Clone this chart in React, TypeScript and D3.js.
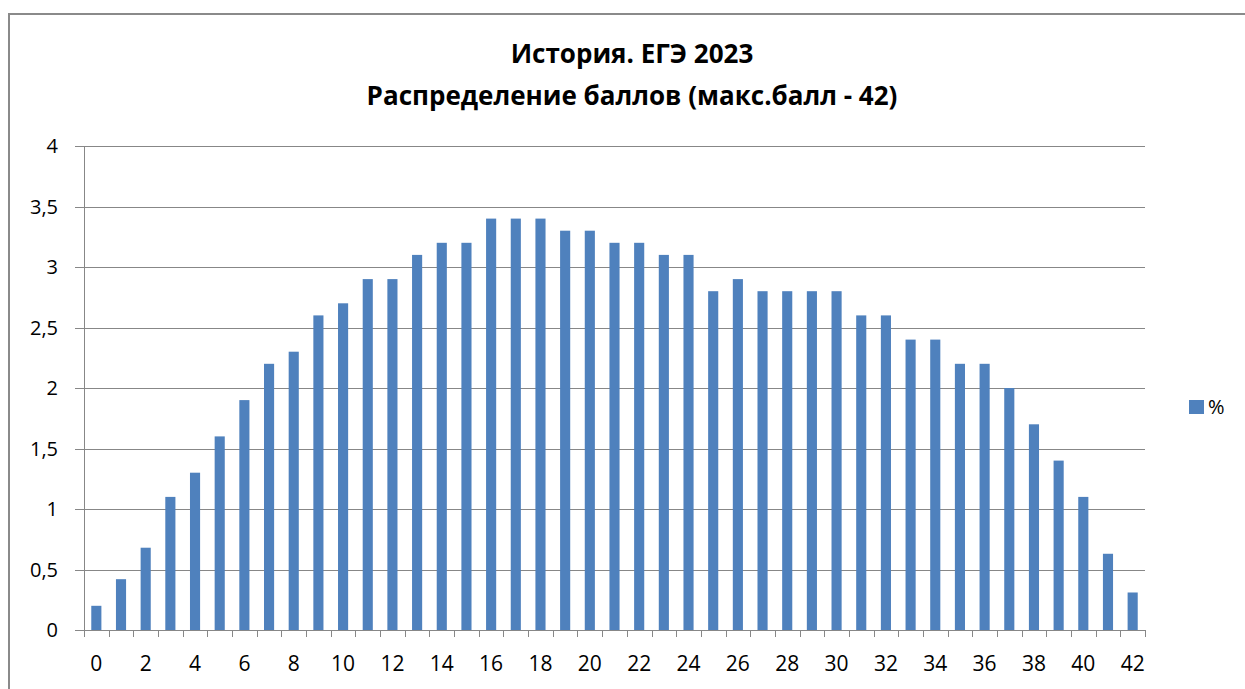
import * as d3 from "d3";
import { useEffect, useRef } from "react";

const scores = d3.range(0, 43).map(String);
const percents = [
  0.2, 0.42, 0.68, 1.1, 1.3, 1.6, 1.9, 2.2, 2.3, 2.6, 2.7, 2.9, 2.9, 3.1, 3.2,
  3.2, 3.4, 3.4, 3.4, 3.3, 3.3, 3.2, 3.2, 3.1, 3.1, 2.8, 2.9, 2.8, 2.8, 2.8,
  2.8, 2.6, 2.6, 2.4, 2.4, 2.2, 2.2, 2.0, 1.7, 1.4, 1.1, 0.63, 0.31,
];
const yTicks = [0, 0.5, 1, 1.5, 2, 2.5, 3, 3.5, 4];
const titleLines = ["История. ЕГЭ 2023", "Распределение баллов (макс.балл - 42)"];
const seriesName = "%";

export default function App() {
  const svgRef = useRef<SVGSVGElement | null>(null);

  useEffect(() => {
    if (!svgRef.current) return;
    const svg = d3.select(svgRef.current);
    svg.selectAll("*").remove();

    const width = 1245;
    const height = 689;
    const margin = { top: 146, right: 100, bottom: 59, left: 84 };
    const font = "'Open Sans', 'Noto Sans', sans-serif";
    const barColor = "#4f81bd";
    const lineColor = "#878787";

    // outer frame (runs past the window on the right and bottom)
    svg
      .append("rect")
      .attr("x", 9)
      .attr("y", 14)
      .attr("width", width + 20)
      .attr("height", height + 20)
      .attr("fill", "#fff")
      .attr("stroke", "#8a8a8a")
      .attr("stroke-width", 2);

    const x = d3
      .scaleBand()
      .domain(scores)
      .range([margin.left, width - margin.right])
      .paddingInner(0.59)
      .paddingOuter(0.295);

    const y = d3
      .scaleLinear()
      .domain([0, 4])
      .range([height - margin.bottom, margin.top]);

    // grid
    svg
      .append("g")
      .selectAll("line")
      .data(yTicks)
      .join("line")
      .attr("x1", margin.left - 9)
      .attr("x2", width - margin.right)
      .attr("y1", (d) => Math.round(y(d)) + 0.5)
      .attr("y2", (d) => Math.round(y(d)) + 0.5)
      .attr("stroke", lineColor)
      .attr("stroke-width", 1);

    // y axis line
    svg
      .append("line")
      .attr("x1", margin.left + 0.5)
      .attr("x2", margin.left + 0.5)
      .attr("y1", y(4))
      .attr("y2", y(0))
      .attr("stroke", lineColor);

    // y labels
    svg
      .append("g")
      .selectAll("text")
      .data(yTicks)
      .join("text")
      .attr("x", 58)
      .attr("y", (d) => y(d))
      .attr("dy", "0.35em")
      .attr("text-anchor", "end")
      .attr("font-family", font)
      .attr("font-size", 20)
      .attr("fill", "#000")
      .text((d) => String(d).replace(".", ","));

    // bars
    svg
      .append("g")
      .selectAll("rect")
      .data(percents)
      .join("rect")
      .attr("x", (_, i) => x(scores[i])!)
      .attr("y", (d) => y(d))
      .attr("width", x.bandwidth())
      .attr("height", (d) => y(0) - y(d))
      .attr("fill", barColor);

    // x axis ticks at category boundaries
    const step = x.step();
    const x0 = margin.left;
    svg
      .append("g")
      .selectAll("line")
      .data(d3.range(0, scores.length + 1))
      .join("line")
      .attr("x1", (i) => Math.round(x0 + i * step) + 0.5)
      .attr("x2", (i) => Math.round(x0 + i * step) + 0.5)
      .attr("y1", y(0))
      .attr("y2", y(0) + 7)
      .attr("stroke", lineColor);

    // x labels every 2
    svg
      .append("g")
      .selectAll("text")
      .data(scores.filter((_, i) => i % 2 === 0))
      .join("text")
      .attr("x", (d) => x(d)! + x.bandwidth() / 2)
      .attr("y", 664)
      .attr("dy", "0.35em")
      .attr("text-anchor", "middle")
      .attr("font-family", font)
      .attr("font-size", 21)
      .attr("fill", "#000")
      .text((d) => d);

    // title
    svg
      .append("g")
      .selectAll("text")
      .data(titleLines)
      .join("text")
      .attr("x", 632)
      .attr("y", (_, i) => 63 + i * 42)
      .attr("text-anchor", "middle")
      .attr("font-family", font)
      .attr("font-size", 26)
      .attr("font-weight", 700)
      .attr("fill", "#000")
      .text((d) => d);

    // legend
    svg
      .append("rect")
      .attr("x", 1189)
      .attr("y", 400)
      .attr("width", 15)
      .attr("height", 14)
      .attr("fill", barColor);
    svg
      .append("text")
      .attr("x", 1208)
      .attr("y", 407)
      .attr("dy", "0.35em")
      .attr("font-family", font)
      .attr("font-size", 20)
      .attr("fill", "#000")
      .text(seriesName);
  }, []);

  return (
    <svg
      ref={svgRef}
      width={1245}
      height={689}
      style={{ position: "absolute", left: 0, top: 0 }}
    ></svg>
  );
}
